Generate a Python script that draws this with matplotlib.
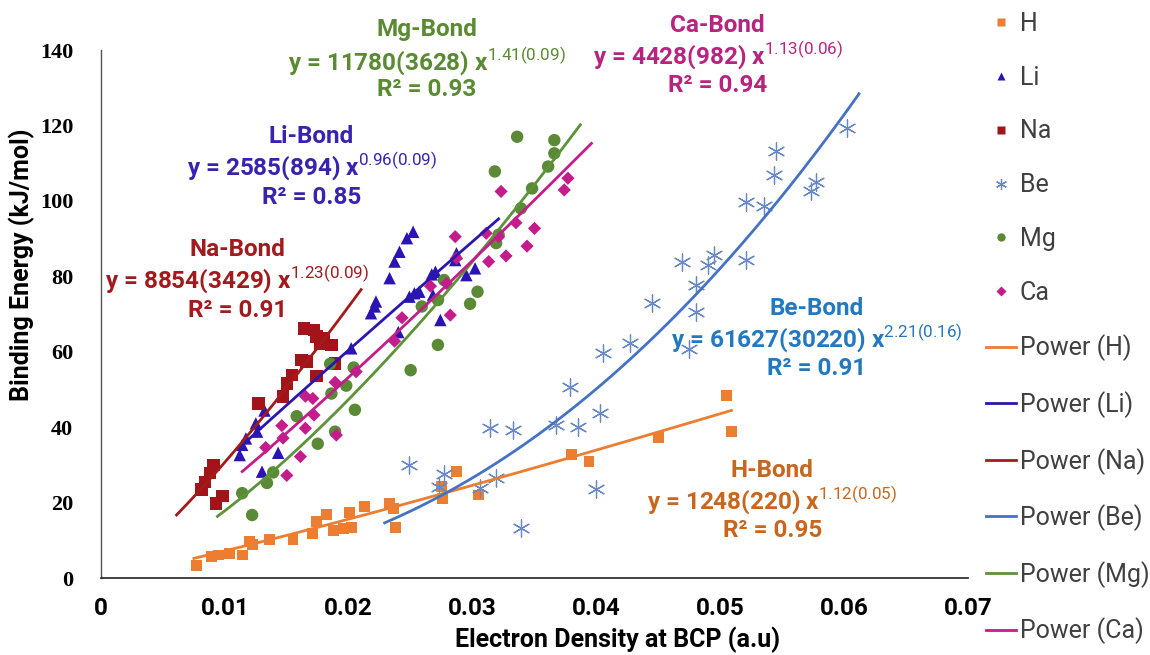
import numpy as np
import matplotlib
matplotlib.use("Agg")
import matplotlib.pyplot as plt
from matplotlib.lines import Line2D

# electron density at BCP (a.u) and binding energy (kJ/mol)
h_x = [0.0077, 0.0089, 0.0095, 0.0104, 0.0114, 0.0120, 0.0122, 0.0136, 0.0155, 0.0171,
       0.0174, 0.0182, 0.0188, 0.0196, 0.0202, 0.0201, 0.0213, 0.0233, 0.0236, 0.0238,
       0.0275, 0.0276, 0.0287, 0.0305, 0.0380, 0.0394, 0.0450, 0.0505, 0.0509]
h_y = [3.4, 5.6, 6.1, 6.5, 6.1, 9.6, 8.8, 10.3, 10.1, 11.7,
       14.9, 16.9, 12.7, 13.2, 13.3, 17.4, 18.9, 19.8, 18.5, 13.3,
       24.3, 21.0, 28.2, 22.0, 32.8, 30.8, 37.3, 48.3, 38.8]

li_x = [0.0112, 0.0114, 0.0117, 0.0125, 0.0126, 0.0130, 0.0132, 0.0143, 0.0202, 0.0218,
        0.0221, 0.0222, 0.0233, 0.0237, 0.0241, 0.0247, 0.0252, 0.0240, 0.0249, 0.0253,
        0.0257, 0.0267, 0.0270, 0.0268, 0.0274, 0.0286, 0.0287, 0.0295, 0.0302]
li_y = [32.6, 35.3, 37.0, 41.0, 38.8, 28.2, 44.4, 33.2, 60.9, 70.2,
        72.0, 73.3, 79.5, 83.9, 86.5, 90.1, 91.8, 65.2, 74.6, 75.5,
        75.9, 80.5, 81.2, 75.0, 68.4, 84.3, 86.1, 80.3, 82.1]

na_x = [0.0081, 0.0084, 0.0088, 0.0091, 0.0093, 0.0098, 0.0127, 0.0147, 0.0150, 0.0154,
        0.0162, 0.0166, 0.0164, 0.0172, 0.0174, 0.0177, 0.0180, 0.0186, 0.0189, 0.0174]
na_y = [23.5, 25.5, 27.8, 30.0, 19.8, 21.7, 46.3, 48.1, 51.6, 53.8,
        57.8, 57.4, 66.2, 65.8, 64.0, 62.2, 63.5, 61.8, 56.9, 53.6]

be_x = [0.0249, 0.0273, 0.0277, 0.0306, 0.0314, 0.0319, 0.0333, 0.0339, 0.0367, 0.0379,
        0.0385, 0.0400, 0.0403, 0.0405, 0.0427, 0.0445, 0.0469, 0.0475, 0.0480, 0.0480,
        0.0490, 0.0495, 0.0521, 0.0521, 0.0535, 0.0543, 0.0545, 0.0573, 0.0577, 0.0602]
be_y = [30.0, 24.2, 27.5, 23.8, 39.7, 26.4, 39.2, 13.2, 40.6, 50.7,
        40.1, 23.5, 43.7, 59.6, 62.3, 72.9, 83.9, 60.7, 77.7, 70.6,
        83.0, 85.7, 84.3, 99.8, 98.6, 106.9, 113.3, 102.7, 105.1, 119.3]

mg_x = [0.0114, 0.0122, 0.0134, 0.0139, 0.0158, 0.0175, 0.0189, 0.0185, 0.0186, 0.0198,
        0.0204, 0.0205, 0.0250, 0.0259, 0.0272, 0.0272, 0.0277, 0.0298, 0.0304, 0.0318,
        0.0319, 0.0321, 0.0336, 0.0339, 0.0348, 0.0361, 0.0366, 0.0366]
mg_y = [22.5, 16.7, 25.2, 28.0, 42.9, 35.6, 38.8, 56.8, 48.9, 51.0,
        55.8, 44.6, 55.1, 72.0, 61.8, 73.7, 79.0, 72.7, 75.9, 107.8,
        88.8, 91.0, 117.0, 98.0, 103.3, 109.1, 112.6, 116.1]

ca_x = [0.0133, 0.0146, 0.0147, 0.0150, 0.0161, 0.0165, 0.0165, 0.0171, 0.0172, 0.0189,
        0.0190, 0.0206, 0.0237, 0.0243, 0.0266, 0.0279, 0.0282, 0.0286, 0.0287, 0.0311,
        0.0313, 0.0321, 0.0323, 0.0327, 0.0335, 0.0344, 0.0350, 0.0374, 0.0377]
ca_y = [34.6, 40.4, 37.1, 27.2, 32.2, 48.2, 39.7, 47.6, 43.2, 51.9,
        37.9, 54.7, 62.8, 69.0, 77.4, 78.1, 69.7, 90.5, 84.8, 91.4,
        83.9, 90.5, 102.5, 85.4, 94.2, 88.0, 92.7, 102.9, 106.0]

# power fits y = a * x^b from the labels, and the x span each trendline covers
fit_a = {"H": 1248, "Li": 2585, "Na": 8854, "Be": 61627, "Mg": 11780, "Ca": 4428}
fit_b = {"H": 1.12, "Li": 0.96, "Na": 1.23, "Be": 2.21, "Mg": 1.41, "Ca": 1.13}
fit_span = {"H": (0.0075, 0.0509), "Li": (0.0111, 0.0321), "Na": (0.0061, 0.0210),
            "Be": (0.0229, 0.0612), "Mg": (0.0094, 0.0387), "Ca": (0.0114, 0.0396)}

plt.rcParams["font.family"] = ["Roboto", "DejaVu Sans"]
plt.rcParams["mathtext.fontset"] = "custom"
plt.rcParams["mathtext.rm"] = "Roboto"

fig = plt.figure(figsize=(11.5, 6.55), dpi=100)
ax = fig.add_axes([101 / 1150, 77 / 655, 867 / 1150, 528 / 655])

series = [
    ("H", h_x, h_y, "s", "#ED7D31", 62, "#ED7D31"),
    ("Li", li_x, li_y, "^", "#2A14B4", 80, "#2A17AE"),
    ("Na", na_x, na_y, "s", "#A3141A", 80, "#A31A1A"),
    ("Be", be_x, be_y, (6, 2, 0), "#6688C8", 150, "#4472C4"),
    ("Mg", mg_x, mg_y, "o", "#5A8A35", 80, "#5C9238"),
    ("Ca", ca_x, ca_y, "D", "#C41C8A", 45, "#C41C8A"),
]

handles = []
line_handles = []
for name, xs, ys, mk, col, size, lcol in series:
    if mk == (6, 2, 0):
        ax.scatter(xs, ys, marker=mk, s=size, color=col, linewidths=0.9, zorder=3)
        handles.append(Line2D([], [], marker=mk, color=col, ls="none", ms=8, mew=0.9, label=name))
    else:
        ax.scatter(xs, ys, marker=mk, s=size, color=col, edgecolors="none", zorder=3)
        handles.append(Line2D([], [], marker=mk, color=col, mec="none", ls="none",
                              ms=6 if mk != "D" else 5, label=name))
    x0, x1 = fit_span[name]
    xf = np.linspace(x0, x1, 200)
    ax.plot(xf, fit_a[name] * xf ** fit_b[name], color=lcol, lw=2.0, zorder=4)
    line_handles.append(Line2D([], [], color=lcol, lw=2.0, label="Power (%s)" % name))

ax.set_xlim(0, 0.07)
ax.set_ylim(0, 140)
ax.set_xticks(np.arange(0, 0.0701, 0.01))
ax.set_xticklabels(["0", "0.01", "0.02", "0.03", "0.04", "0.05", "0.06", "0.07"])
ax.set_yticks(np.arange(0, 141, 20))
for s in ["top", "right"]:
    ax.spines[s].set_visible(False)
ax.spines["left"].set_color("#555555")
ax.spines["left"].set_linewidth(1.0)
ax.spines["bottom"].set_color("#222222")
ax.spines["bottom"].set_linewidth(1.2)
ax.tick_params(axis="both", length=0)
ax.tick_params(axis="x", pad=14)
ax.tick_params(axis="y", pad=20)
for lab in ax.get_xticklabels():
    lab.set_fontsize(17.5)
    lab.set_fontweight("bold")
for lab in ax.get_yticklabels():
    lab.set_family(["Liberation Serif", "DejaVu Serif"])
    lab.set_fontsize(16)
    lab.set_fontweight("bold")

ax.set_xlabel("Electron Density at BCP (a.u)", fontsize=18, fontweight="bold")
ax.set_ylabel("Binding Energy (kJ/mol)", fontsize=18, fontweight="bold")
ax.xaxis.set_label_coords((618 - 101) / 867, -(640 - 578) / 528)
ax.yaxis.set_label_coords(-(101 - 22) / 867, (578 - 265) / 528)
ax.xaxis.label.set_va("center")
ax.yaxis.label.set_va("center")

# fit annotations: title, equation, R^2
fs = 17.5
labels = [
    (0.0263, 145.5, 137.0, 129.5, "#5A8A32", "Mg-Bond", "y = 11780(3628) x", "1.41(0.09)", "R² = 0.93"),
    (0.0498, 146.5, 138.5, 130.5, "#B8237F", "Ca-Bond", "y = 4428(982) x", "1.13(0.06)", "R² = 0.94"),
    (0.0170, 117.0, 109.0, 101.0, "#3A22B0", "Li-Bond", "y = 2585(894) x", "0.96(0.09)", "R² = 0.85"),
    (0.0110, 87.0, 79.0, 71.0, "#A31A1E", "Na-Bond", "y = 8854(3429) x", "1.23(0.09)", "R² = 0.91"),
    (0.0578, 71.5, 63.5, 55.5, "#2478BF", "Be-Bond", "y = 61627(30220) x", "2.21(0.16)", "R² = 0.91"),
    (0.0542, 28.5, 20.5, 12.5, "#C8661E", "H-Bond", "y = 1248(220) x", "1.12(0.05)", "R² = 0.95"),
]
for xc, y1, y2, y3, col, title, eq, sup, r2 in labels:
    ax.text(xc, y1, title, color=col, fontsize=fs, fontweight="bold", ha="center", va="center")
    ax.text(xc, y2, eq + "$^{\\mathrm{" + sup + "}}$", color=col, fontsize=fs,
            fontweight="bold", ha="center", va="center")
    ax.text(xc, y3, r2, color=col, fontsize=fs, fontweight="bold", ha="center", va="center")

fig.legend(handles=handles + line_handles, loc="upper left",
           bbox_to_anchor=(986 / 1150, 1 - 12 / 655), frameon=False, fontsize=18,
           labelspacing=1.19, handlelength=1.2, handletextpad=0.15, labelcolor="#404040",
           borderaxespad=0, borderpad=0)

fig.savefig("out.png", dpi=100)
